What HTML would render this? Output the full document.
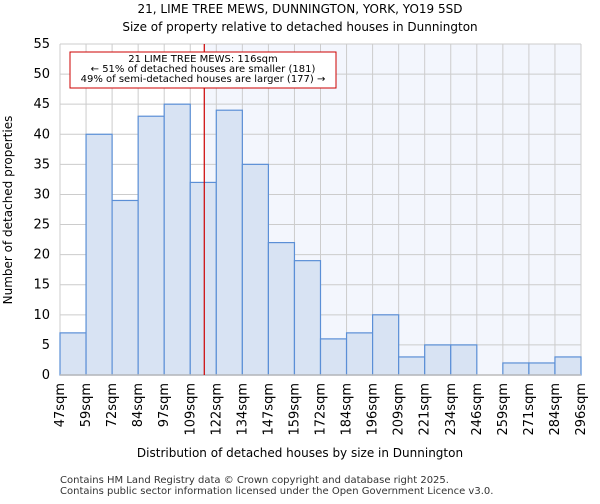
<!DOCTYPE html>
<html><head><meta charset="utf-8"><style>
body{margin:0;background:#fff;font-family:"DejaVu Sans","Liberation Sans",sans-serif;}
</style></head><body>
<svg id="c" width="600" height="500" xmlns="http://www.w3.org/2000/svg" font-family="DejaVu Sans, Liberation Sans, sans-serif">
<text x="300" y="13" text-anchor="middle" font-size="12">21, LIME TREE MEWS, DUNNINGTON, YORK, YO19 5SD</text>
<text x="300" y="31" text-anchor="middle" font-size="12">Size of property relative to detached houses in Dunnington</text>
<g id="plot"></g>
<text x="300" y="457" text-anchor="middle" font-size="12">Distribution of detached houses by size in Dunnington</text>
<text transform="translate(12,210) rotate(-90)" text-anchor="middle" font-size="12">Number of detached properties</text>
<text x="60" y="483" font-size="10" fill="#333">Contains HM Land Registry data © Crown copyright and database right 2025.</text>
<text x="60" y="494" font-size="10" fill="#333">Contains public sector information licensed under the Open Government Licence v3.0.</text>
</svg>
<script>
const binLabels=["47sqm","59sqm","72sqm","84sqm","97sqm","109sqm","122sqm","134sqm","147sqm","159sqm","172sqm","184sqm","196sqm","209sqm","221sqm","234sqm","246sqm","259sqm","271sqm","284sqm","296sqm"];
const binEdges=[47,59,72,84,97,109,122,134,147,159,172,184,196,209,221,234,246,259,271,284,296];
const counts=[7,40,29,43,45,32,44,35,22,19,6,7,10,3,5,5,0,2,2,3];
const yTicks=[0,5,10,15,20,25,30,35,40,45,50,55];
const markerValue=116;
const NS="http://www.w3.org/2000/svg";
const L=60,R=581,T=44,B=375,yMax=55;
const n=counts.length;
const xIdx=i=>L+(R-L)*i/n;
const xVal=v=>{for(let i=0;i<n;i++){if(v<=binEdges[i+1])return xIdx(i)+(v-binEdges[i])/(binEdges[i+1]-binEdges[i])*(R-L)/n;}return R;};
const y=v=>B-(B-T)*v/yMax;
const g=document.getElementById('plot');
function el(t,a){const e=document.createElementNS(NS,t);for(const k in a)e.setAttribute(k,a[k]);g.appendChild(e);return e;}
const mx=xVal(markerValue);
let e=el('rect',{x:mx,y:T,width:R-mx,height:B-T,fill:'#f3f6fd'});


yTicks.forEach(t=>{const l=el('line',{x1:L,x2:R,y1:y(t),y2:y(t),stroke:'#ccc'});


const tx=el('text',{x:L-10,y:y(t)+4,'text-anchor':'end','font-size':13});tx.textContent=t;

});
binLabels.forEach((s,i)=>{const x=xIdx(i);const l=el('line',{x1:x,x2:x,y1:T,y2:B,stroke:'#ccc'});


const tx=el('text',{transform:`translate(${x+4},${B+8}) rotate(-90)`,'text-anchor':'end','font-size':13});tx.textContent=s;

});
counts.forEach((c,i)=>{if(c<=0)return;const r=el('rect',{x:xIdx(i),y:y(c),width:(R-L)/n,height:B-y(c),fill:'#d8e3f3',stroke:'#5b8fd6','stroke-width':1.2});

});
e=el('line',{x1:L,x2:R,y1:B,y2:B,stroke:'#bbb','stroke-width':1.5});


e=el('line',{x1:mx,x2:mx,y1:T,y2:B,stroke:'#cc0000','stroke-width':1.2});


e=el('rect',{x:70,y:52,width:266,height:36,fill:'#fff',stroke:'#cc0000'});


["21 LIME TREE MEWS: 116sqm","← 51% of detached houses are smaller (181)","49% of semi-detached houses are larger (177) →"].forEach((s,i)=>{const t=el('text',{x:203,y:62+i*10,'text-anchor':'middle','font-size':10});t.textContent=s;

});
</script>
</body></html>
